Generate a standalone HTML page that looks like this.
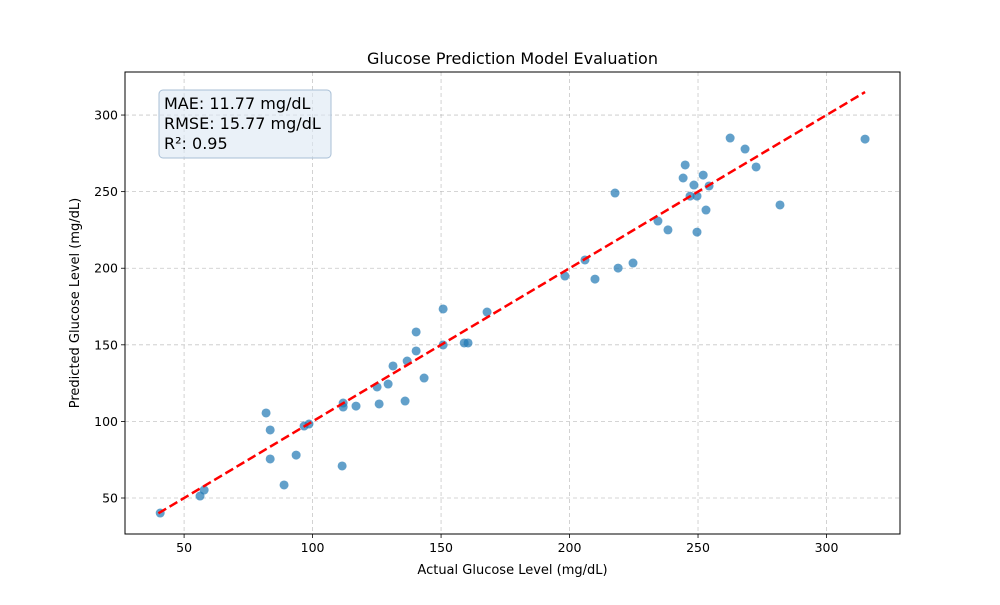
<!DOCTYPE html>
<html><head><meta charset="utf-8"><style>
body{margin:0;background:#fff;font-family:"Liberation Sans","DejaVu Sans",sans-serif}
svg text{font-family:"DejaVu Sans","Liberation Sans",sans-serif}
</style></head><body>
<svg id="chart" width="1000" height="600" xmlns="http://www.w3.org/2000/svg"></svg>
<script>
const actual=[40.7,56.2,57.8,81.9,83.5,83.5,88.9,93.6,96.7,98.6,111.5,111.9,111.9,116.9,125.1,125.9,129.4,131.3,136,136.8,140.3,140.3,143.4,150.8,150.8,159,160.5,167.9,198.2,206,209.9,217.7,218.9,224.7,234.4,238.3,244.2,245,246.9,249.6,248.4,249.6,252,253.1,254.3,262.5,268.3,272.6,281.9,315];
const predicted=[40.2,51.3,55.2,105.5,94.4,75.5,58.5,78,97,98.3,70.9,112,109.4,110,122.5,111.4,124.4,136.2,113.3,139.4,146,158.4,128.3,149.9,173.4,151.2,151.2,171.4,194.9,205.4,192.9,249.1,200.1,203.4,230.8,225,258.9,267.4,247.1,223.6,254.3,247.1,260.8,238,253.7,285,277.8,266.1,241.3,284.3];
const xTicks=[50,100,150,200,250,300];
const yTicks=[50,100,150,200,250,300];
const idealLine=[40,315];
const L=125,R=900,T=72,B=534,xmin=27,xmax=328.6,ymin=26.5,ymax=328.1;
const sx=v=>L+(v-xmin)/(xmax-xmin)*(R-L);
const sy=v=>B-(v-ymin)/(ymax-ymin)*(B-T);
const svg=document.getElementById('chart');
const NS='http://www.w3.org/2000/svg';
function mk(tag,attrs,parent){const e=document.createElementNS(NS,tag);for(const k in attrs)e.setAttribute(k,attrs[k]);(parent||svg).appendChild(e);return e;}
const grid=mk('g',{});


xTicks.forEach(t=>{
 const l=mk('line',{x1:sx(t),x2:sx(t),y1:T,y2:B,stroke:'#b0b0b0','stroke-width':0.8,'stroke-dasharray':'4,3','opacity':0.7},grid);
 
 mk('line',{x1:sx(t),x2:sx(t),y1:B,y2:B+4,stroke:'#000','stroke-width':0.8});
 const tx=mk('text',{x:sx(t),y:B+18,'text-anchor':'middle','font-size':12.5,fill:'#000'});tx.textContent=t;
 
});
yTicks.forEach(t=>{
 const l=mk('line',{x1:L,x2:R,y1:sy(t),y2:sy(t),stroke:'#b0b0b0','stroke-width':0.8,'stroke-dasharray':'4,3','opacity':0.7},grid);
 
 mk('line',{x1:L-4,x2:L,y1:sy(t),y2:sy(t),stroke:'#000','stroke-width':0.8});
 const tx=mk('text',{x:L-7,y:sy(t)+4.5,'text-anchor':'end','font-size':12.5,fill:'#000'});tx.textContent=t;
 
});
const pts=mk('g',{});


actual.forEach((a,i)=>{
 const c=mk('circle',{cx:sx(a),cy:sy(predicted[i]),r:4.5,fill:'#1f77b4','fill-opacity':0.7},pts);
 
});
const il=mk('line',{x1:sx(idealLine[0]),y1:sy(idealLine[0]),x2:sx(idealLine[1]),y2:sy(idealLine[1]),stroke:'#ff0000','stroke-width':2.5,'stroke-dasharray':'9,4'});

const fr=mk('rect',{x:L,y:T,width:R-L,height:B-T,fill:'none',stroke:'#000','stroke-width':1});

const box=mk('rect',{x:159,y:90,width:172,height:68,rx:4,fill:'#dce8f4','fill-opacity':0.6,stroke:'#a8bfd6','stroke-width':1});

['MAE: 11.77 mg/dL','RMSE: 15.77 mg/dL','R²: 0.95'].forEach((s,i)=>{
 const t=mk('text',{x:164,y:109+i*20,'font-size':16,fill:'#000'});t.textContent=s;
 
});
const ti=mk('text',{x:(L+R)/2,y:64,'text-anchor':'middle','font-size':16,fill:'#000'});ti.textContent='Glucose Prediction Model Evaluation';

const xl=mk('text',{x:(L+R)/2,y:574,'text-anchor':'middle','font-size':13,fill:'#000'});xl.textContent='Actual Glucose Level (mg/dL)';

const yl=mk('text',{x:79,y:(T+B)/2,'text-anchor':'middle','font-size':13,fill:'#000',transform:`rotate(-90 79 ${(T+B)/2})`});yl.textContent='Predicted Glucose Level (mg/dL)';

</script>
</body></html>
